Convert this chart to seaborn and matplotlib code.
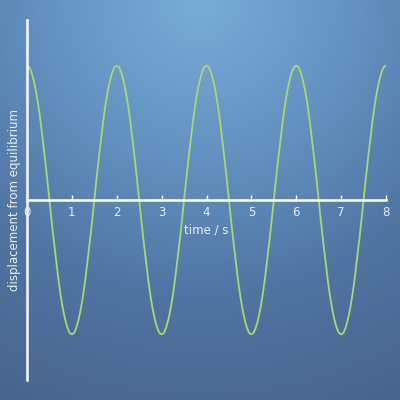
import numpy as np
import pandas as pd
import matplotlib
matplotlib.use("Agg")
import matplotlib.pyplot as plt
import seaborn as sns
from matplotlib.colors import LinearSegmentedColormap

# displacement every 0.05 s
time_s = [
    0.0, 0.05, 0.1, 0.15, 0.2, 0.25, 0.3, 0.35, 0.4, 0.45, 0.5, 0.55, 0.6, 0.65, 0.7, 0.75, 0.8, 0.85, 0.9, 0.95,
    1.0, 1.05, 1.1, 1.15, 1.2, 1.25, 1.3, 1.35, 1.4, 1.45, 1.5, 1.55, 1.6, 1.65, 1.7, 1.75, 1.8, 1.85, 1.9, 1.95,
    2.0, 2.05, 2.1, 2.15, 2.2, 2.25, 2.3, 2.35, 2.4, 2.45, 2.5, 2.55, 2.6, 2.65, 2.7, 2.75, 2.8, 2.85, 2.9, 2.95,
    3.0, 3.05, 3.1, 3.15, 3.2, 3.25, 3.3, 3.35, 3.4, 3.45, 3.5, 3.55, 3.6, 3.65, 3.7, 3.75, 3.8, 3.85, 3.9, 3.95,
    4.0, 4.05, 4.1, 4.15, 4.2, 4.25, 4.3, 4.35, 4.4, 4.45, 4.5, 4.55, 4.6, 4.65, 4.7, 4.75, 4.8, 4.85, 4.9, 4.95,
    5.0, 5.05, 5.1, 5.15, 5.2, 5.25, 5.3, 5.35, 5.4, 5.45, 5.5, 5.55, 5.6, 5.65, 5.7, 5.75, 5.8, 5.85, 5.9, 5.95,
    6.0, 6.05, 6.1, 6.15, 6.2, 6.25, 6.3, 6.35, 6.4, 6.45, 6.5, 6.55, 6.6, 6.65, 6.7, 6.75, 6.8, 6.85, 6.9, 6.95,
    7.0, 7.05, 7.1, 7.15, 7.2, 7.25, 7.3, 7.35, 7.4, 7.45, 7.5, 7.55, 7.6, 7.65, 7.7, 7.75, 7.8, 7.85, 7.9, 7.95,
    8.0,
]
displacement = [
    1.0, 0.99, 0.95, 0.89, 0.81, 0.71, 0.59, 0.45, 0.31, 0.16, 0.0, -0.16, -0.31, -0.45, -0.59, -0.71, -0.81, -0.89, -0.95, -0.99,
    -1.0, -0.99, -0.95, -0.89, -0.81, -0.71, -0.59, -0.45, -0.31, -0.16, 0.0, 0.16, 0.31, 0.45, 0.59, 0.71, 0.81, 0.89, 0.95, 0.99,
    1.0, 0.99, 0.95, 0.89, 0.81, 0.71, 0.59, 0.45, 0.31, 0.16, 0.0, -0.16, -0.31, -0.45, -0.59, -0.71, -0.81, -0.89, -0.95, -0.99,
    -1.0, -0.99, -0.95, -0.89, -0.81, -0.71, -0.59, -0.45, -0.31, -0.16, 0.0, 0.16, 0.31, 0.45, 0.59, 0.71, 0.81, 0.89, 0.95, 0.99,
    1.0, 0.99, 0.95, 0.89, 0.81, 0.71, 0.59, 0.45, 0.31, 0.16, 0.0, -0.16, -0.31, -0.45, -0.59, -0.71, -0.81, -0.89, -0.95, -0.99,
    -1.0, -0.99, -0.95, -0.89, -0.81, -0.71, -0.59, -0.45, -0.31, -0.16, 0.0, 0.16, 0.31, 0.45, 0.59, 0.71, 0.81, 0.89, 0.95, 0.99,
    1.0, 0.99, 0.95, 0.89, 0.81, 0.71, 0.59, 0.45, 0.31, 0.16, 0.0, -0.16, -0.31, -0.45, -0.59, -0.71, -0.81, -0.89, -0.95, -0.99,
    -1.0, -0.99, -0.95, -0.89, -0.81, -0.71, -0.59, -0.45, -0.31, -0.16, 0.0, 0.16, 0.31, 0.45, 0.59, 0.71, 0.81, 0.89, 0.95, 0.99,
    1.0,
]
x_ticks = [0, 1, 2, 3, 4, 5, 6, 7, 8]

df = pd.DataFrame({"t": time_s, "x": displacement})

sns.set_style("white", rc={"axes.facecolor": "none", "figure.facecolor": "#5a82ad"})
plt.rcParams["font.family"] = ["DejaVu Sans"]

fig = plt.figure(figsize=(4, 4), dpi=100)

# radial background, light at top centre
bg = fig.add_axes([0, 0, 1, 1], zorder=-1)
gx, gy = np.meshgrid(np.linspace(0, 1, 200), np.linspace(1, 0, 200))
dist = np.sqrt((gx - 0.5) ** 2 + (gy - 1.0) ** 2) / 1.12
cmap = LinearSegmentedColormap.from_list("bg", ["#79acd8", "#6493c2", "#5074a2", "#48648c"])
bg.imshow(dist, cmap=cmap, vmin=0, vmax=1, extent=[0, 1, 0, 1], aspect="auto")
bg.axis("off")

ax = fig.add_axes([27 / 400, 20 / 400, 359 / 400, 360 / 400])
sns.lineplot(data=df, x="t", y="x", ax=ax, color="#a8d873", linewidth=1.3)

ax.set_xlim(0, 8)
ax.set_ylim(-1.34, 1.34)
for s in ["top", "right"]:
    ax.spines[s].set_visible(False)
ax.spines["left"].set_color("white")
ax.spines["left"].set_linewidth(1.8)
ax.spines["bottom"].set_position(("data", 0))
ax.spines["bottom"].set_color("white")
ax.spines["bottom"].set_linewidth(1.8)

ax.set_xticks(x_ticks)
ax.set_yticks([])
ax.tick_params(axis="x", direction="in", length=3.5, width=1, color="white",
               labelcolor="#e8eef5", labelsize=8.5, pad=4, bottom=True)

ax.set_xlabel("time / s", color="#e8eef5", fontsize=8.5)
ax.xaxis.set_label_coords(0.5, 0.435)
ax.set_ylabel("displacement from equilibrium", color="#e8eef5", fontsize=8.5)
ax.yaxis.set_label_coords(-0.018, 0.5)

fig.savefig("out.png", dpi=100)
